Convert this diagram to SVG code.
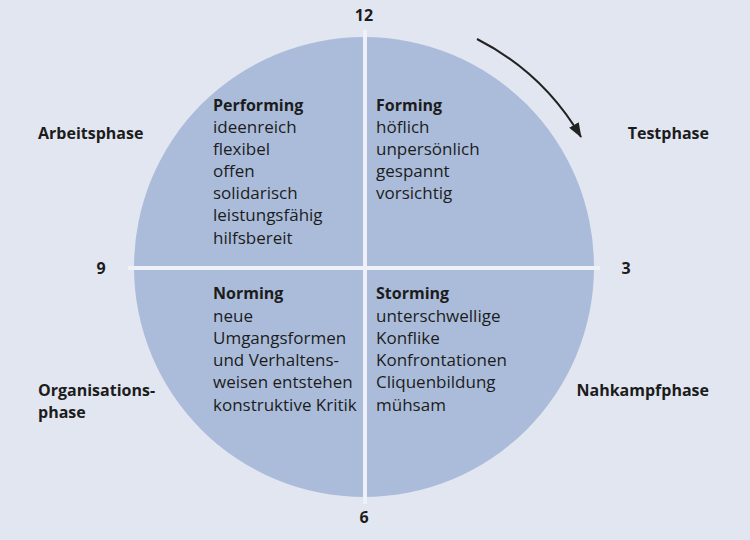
<svg xmlns="http://www.w3.org/2000/svg" width="750" height="540" viewBox="0 0 750 540">
<style>
text{font-family:"Open Sans","Liberation Sans",sans-serif;fill:#1c1c1c;font-size:17px}
.b{font-weight:700;font-size:16px}
.sep{stroke:#eef1f8;stroke-width:4}
.arc{fill:none;stroke:#222;stroke-width:2}
</style>
<defs>
<marker id="ah" markerUnits="userSpaceOnUse" markerWidth="15" markerHeight="11" refX="14" refY="5.5" orient="auto">
<path d="M0,0 L15,5.5 L0,11 z" fill="#222"/>
</marker>
</defs>
<rect width="750" height="540" fill="#e2e6f1"/>
<circle cx="364" cy="267" r="230" fill="#abbcdb"/>
<line class="sep" x1="365" y1="30" x2="365" y2="504"/>
<line class="sep" x1="128" y1="268" x2="600" y2="268"/>
<g id="connectors">
<path class="arc" d="M477 39 A254 254 0 0 1 581 137" marker-end="url(#ah)"/>
</g>
<g id="performing">
<text x="213" y="111" class="b">Performing</text>
<text x="213" y="133">ideenreich</text>
<text x="213" y="155">flexibel</text>
<text x="213" y="177">offen</text>
<text x="213" y="199">solidarisch</text>
<text x="213" y="221">leistungsfähig</text>
<text x="213" y="244">hilfsbereit</text>
</g>
<g id="forming">
<text x="376" y="111" class="b">Forming</text>
<text x="376" y="133">höflich</text>
<text x="376" y="155">unpersönlich</text>
<text x="376" y="177">gespannt</text>
<text x="376" y="199">vorsichtig</text>
</g>
<g id="norming">
<text x="213" y="299" class="b">Norming</text>
<text x="213" y="322">neue</text>
<text x="213" y="344">Umgangsformen</text>
<text x="213" y="366">und Verhaltens-</text>
<text x="213" y="388">weisen entstehen</text>
<text x="213" y="411">konstruktive Kritik</text>
</g>
<g id="storming">
<text x="376" y="299" class="b">Storming</text>
<text x="376" y="322">unterschwellige</text>
<text x="376" y="344">Konflike</text>
<text x="376" y="366">Konfrontationen</text>
<text x="376" y="388">Cliquenbildung</text>
<text x="376" y="411">mühsam</text>
</g>
<g id="labels">
<text x="364" y="21" class="b" text-anchor="middle">12</text>
<text x="101" y="274" class="b" text-anchor="middle">9</text>
<text x="626" y="274" class="b" text-anchor="middle">3</text>
<text x="364" y="523" class="b" text-anchor="middle">6</text>
<text x="38" y="139" class="b">Arbeitsphase</text>
<text x="709" y="139" class="b" text-anchor="end">Testphase</text>
<text x="38" y="396" class="b">Organisations-</text>
<text x="38" y="418" class="b">phase</text>
<text x="709" y="396" class="b" text-anchor="end">Nahkampfphase</text>
</g>
</svg>
